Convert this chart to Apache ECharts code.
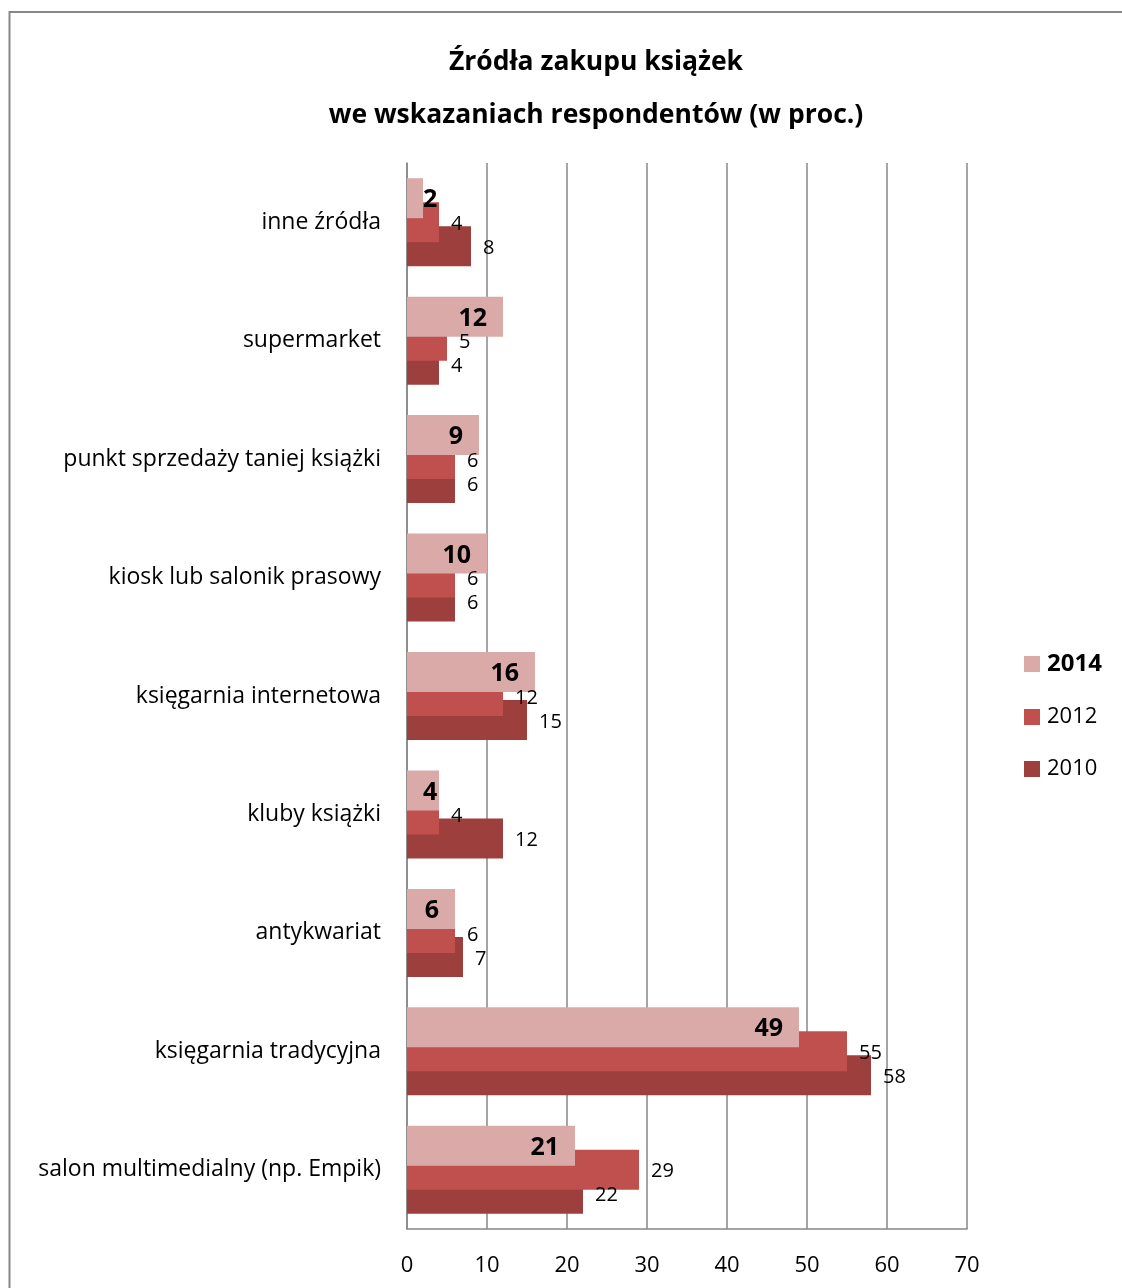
<!DOCTYPE html>
<html>
<head>
<meta charset="utf-8">
<title>Źródła zakupu książek</title>
<script src="https://cdn.jsdelivr.net/npm/echarts@6/dist/echarts.min.js"></script>
<style>
  html, body { margin: 0; padding: 0; background: #ffffff; }
  #chart { width: 1122px; height: 1288px; }
</style>
</head>
<body>
<div id="chart"></div>
<script>
// Purchase sources, listed top to bottom
const categories = [
  'inne źródła',
  'supermarket',
  'punkt sprzedaży taniej książki',
  'kiosk lub salonik prasowy',
  'księgarnia internetowa',
  'kluby książki',
  'antykwariat',
  'księgarnia tradycyjna',
  'salon multimedialny (np. Empik)'
];

const years = ['2014', '2012', '2010'];

// Share of respondents (%) per year
const values2014 = [2, 12, 9, 10, 16, 4, 6, 49, 21];
const values2012 = [4, 5, 6, 6, 12, 4, 6, 55, 29];
const values2010 = [8, 4, 6, 6, 15, 12, 7, 58, 22];

const xTicks = [0, 10, 20, 30, 40, 50, 60, 70];

const FONT = '"Open Sans", "Noto Sans", sans-serif';
const colors = { '2014': '#DAAAA9', '2012': '#C0504D', '2010': '#9D3F3D' };

// Bars are 40px tall and overlap; each next year sits 24px lower
const BAR_W = 40;
const BAR_STEP = 24;

// 2014 values sit inside the bar end; short bars keep the label next to the axis instead
const data2014 = values2014.map(v => (
  v <= 4
    ? { value: v, label: { position: 'insideLeft', distance: 16 } }
    : { value: v }
));

// Value labels for 2012 and 2010 are drawn as a separate top layer,
// so the lighter 2014 bars never cover them
const labelPoints = (values) => values.map((v, i) => [v, i]);

const plainLabel = (dy) => ({
  show: true,
  position: 'right',
  distance: 12,
  offset: [0, dy + 2],
  color: '#000',
  opacity: 1,
  fontFamily: FONT,
  fontSize: 20,
  formatter: p => String(p.value[0])
});

const chart = echarts.init(document.getElementById('chart'), null, { renderer: 'canvas' });

chart.setOption({
  backgroundColor: '#ffffff',
  animation: false,
  textStyle: { fontFamily: FONT },
  title: {
    text: 'Źródła zakupu książek\nwe wskazaniach respondentów (w proc.)',
    left: 591,
    textAlign: 'center',
    top: 31,
    textStyle: {
      fontFamily: FONT,
      fontSize: 26.5,
      fontWeight: 'bold',
      color: '#000',
      lineHeight: 53
    }
  },
  graphic: [{
    type: 'rect',
    shape: { x: 9.5, y: 12, width: 1300, height: 1400 },
    style: { fill: 'none', stroke: '#878787', lineWidth: 2 },
    silent: true
  }],
  legend: {
    data: years,
    orient: 'vertical',
    left: 1019,
    top: 647,
    itemWidth: 16,
    itemHeight: 16,
    itemGap: 30,
    icon: 'rect',
    formatter: name => name === '2014' ? '{b|' + name + '}' : '{n|' + name + '}',
    textStyle: {
      color: '#000',
      fontFamily: FONT,
      fontSize: 22,
      padding: [0, 0, 0, 2],
      rich: {
        b: { fontFamily: FONT, fontSize: 24, fontWeight: 'bold', color: '#000' },
        n: { fontFamily: FONT, fontSize: 22, color: '#000' }
      }
    }
  },
  grid: {
    left: 407,
    right: 155,
    top: 163,
    bottom: 59,
    containLabel: false
  },
  xAxis: {
    type: 'value',
    min: xTicks[0],
    max: xTicks[xTicks.length - 1],
    interval: 10,
    axisLine: { show: true, lineStyle: { color: '#878787', width: 1.5 } },
    axisTick: { show: false },
    axisLabel: {
      color: '#000',
      fontFamily: FONT,
      fontSize: 22,
      margin: 26
    },
    splitLine: { show: true, lineStyle: { color: '#878787', width: 1.5 } }
  },
  yAxis: {
    type: 'category',
    data: categories,
    inverse: true,
    axisLine: { show: true, lineStyle: { color: '#878787', width: 1.5 } },
    axisTick: { show: false },
    axisLabel: {
      color: '#000',
      fontFamily: FONT,
      fontSize: 23,
      margin: 26
    },
    splitLine: { show: false }
  },
  series: [
    {
      name: '2014',
      type: 'bar',
      data: data2014,
      barWidth: BAR_W,
      barGap: '-40%',
      z: 4,
      itemStyle: { color: colors['2014'] },
      label: {
        show: true,
        position: 'insideRight',
        distance: 16,
        offset: [0, 2],
        color: '#000',
        fontFamily: FONT,
        fontSize: 25,
        fontWeight: 'bold'
      }
    },
    {
      name: '2012',
      type: 'bar',
      data: values2012,
      barWidth: BAR_W,
      barGap: '-40%',
      z: 3,
      itemStyle: { color: colors['2012'] }
    },
    {
      name: '2010',
      type: 'bar',
      data: values2010,
      barWidth: BAR_W,
      barGap: '-40%',
      z: 2,
      itemStyle: { color: colors['2010'] }
    },
    {
      name: 'etykiety 2012',
      type: 'scatter',
      data: labelPoints(values2012),
      symbolSize: 0,
      silent: true,
      z: 10,
      itemStyle: { opacity: 1 },
      label: plainLabel(0)
    },
    {
      name: 'etykiety 2010',
      type: 'scatter',
      data: labelPoints(values2010),
      symbolSize: 0,
      silent: true,
      z: 10,
      itemStyle: { opacity: 1 },
      label: plainLabel(BAR_STEP)
    }
  ]
});
</script>
</body>
</html>
